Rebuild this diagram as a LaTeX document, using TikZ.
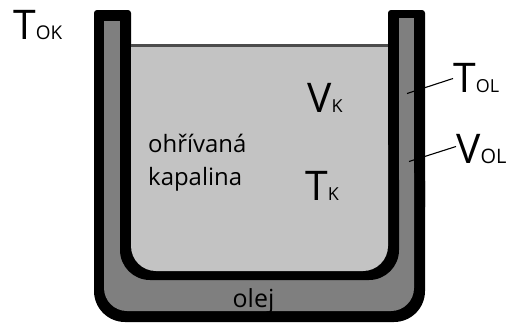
\documentclass[tikz,border=0pt]{standalone}
\usepackage{fontspec}
\setmainfont{Open Sans}
\definecolor{liq}{HTML}{C3C3C3}
\definecolor{oil}{HTML}{7F7F7F}
\newcommand{\bigsub}[3]{{\fontsize{41}{41}\selectfont #1}{\fontsize{#3}{#3}\selectfont #2}}
\tikzset{
  x=1bp,y=-1bp,
  lbl/.style={inner sep=0pt,anchor=base west,text=black},
  small/.style={inner sep=0pt,font=\fontsize{24}{33}\selectfont,align=left,text=black},
  lead/.style={draw=black,line width=1.1bp},
}
\begin{document}
\begin{tikzpicture}
\useasboundingbox (0,0) rectangle (511,323);
\fill[white] (0,0) rectangle (511,323);
% outer vessel (black)
\fill[black,rounded corners=31bp] (94,150) -- (94,322) -- (425,322) -- (425,150) -- cycle;
\fill[black,rounded corners=3bp] (94,10) rectangle (131,210);
\fill[black,rounded corners=3bp] (388,10) rectangle (425,210);
% oil
\fill[oil,rounded corners=23bp] (104,150) -- (104,311) -- (414,311) -- (414,150) -- cycle;
\fill[oil] (104,21) rectangle (121,210);
\fill[oil] (399,18) rectangle (414,210);
% inner vessel wall
\fill[black,rounded corners=30bp] (120,150) -- (120,280) -- (399,280) -- (399,150) -- cycle;
\fill[black] (120,21) rectangle (131,210);
\fill[black] (388,18) rectangle (399,210);
% liquid
\fill[liq,rounded corners=25bp] (131,120) -- (131,271) -- (388,271) -- (388,120) -- cycle;
\fill[liq] (131,46) rectangle (388,180);
\draw[draw=black!70,line width=3bp] (131,45.5) -- (388,45.5);
% texts
\node[lbl] (tok) at (13,39) {\bigsub{T}{OK}{19}};
\node[lbl] (vk) at (307,112) {\bigsub{V}{K}{18}};
\node[lbl] (tk) at (305,200) {\bigsub{T}{K}{18}};
\node[lbl] (tol) at (453,92) {\bigsub{T}{OL}{18}};
\node[lbl] (vol) at (456,163) {\bigsub{V}{OL}{20}};
\node[small,anchor=base west] (liqtext) at (148,185) {ohřívaná\\kapalina};
\node[small,anchor=base,font=\fontsize{25}{28}\selectfont] (oiltext) at (253.5,307) {olej};
% leaders
\coordinate (tolend) at (407,93.5);
\coordinate (volend) at (409,161.5);
\draw[lead] (tolend) -- (tol.west |- 0,78.5);
\draw[lead] (volend) -- (vol.west |- 0,146.5);
\end{tikzpicture}
\end{document}
